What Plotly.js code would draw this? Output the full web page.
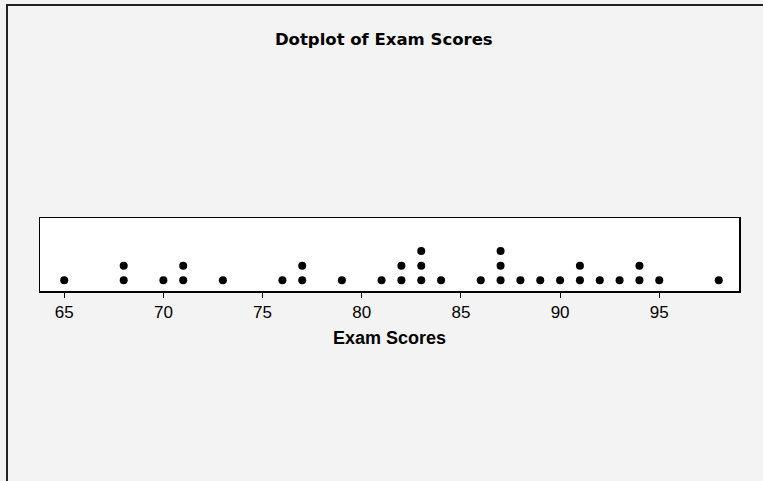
<!DOCTYPE html>
<html>
<head>
<meta charset="utf-8">
<script src="https://cdn.plot.ly/plotly-3.0.1.min.js"></script>
<style>
  html, body { margin: 0; padding: 0; background: #f3f3f3; overflow: hidden; }
  #wrap { position: relative; width: 763px; height: 481px; overflow: hidden; }
  #chart { position: absolute; left: 0; top: 0; width: 763px; height: 481px; }
  #frame { position: absolute; left: 6px; top: 4px; width: 800px; height: 520px;
           border-left: 2px solid #222222; border-top: 2px solid #222222;
           pointer-events: none; }
</style>
</head>
<body>
<div id="wrap">
  <div id="chart"></div>
  <div id="frame"></div>
</div>
<script>
// Exam scores read from the dotplot (one entry per dot)
const scores = [65, 68, 68, 70, 71, 71, 73, 76, 77, 77, 79, 81, 82, 82,
                83, 83, 83, 84, 86, 87, 87, 87, 88, 89, 90, 91, 91, 92,
                93, 94, 94, 95, 98];
const tickValues = [65, 70, 75, 80, 85, 90, 95];
const tickLabels = ['65', '70', '75', '80', '85', '90', '95'];
const chartTitle = 'Dotplot of Exam Scores';
const xTitle = 'Exam Scores';

// stack level for each dot (1 = bottom row)
const counts = {};
const xs = [], ys = [];
scores.forEach(function (s) {
  counts[s] = (counts[s] || 0) + 1;
  xs.push(s);
  ys.push(counts[s]);
});

const trace = {
  type: 'scatter',
  mode: 'markers',
  x: xs,
  y: ys,
  marker: { color: '#000000', size: 8, symbol: 'circle' },
  hoverinfo: 'x',
  showlegend: false
};

const W = 763, H = 481;
const L = 40, R = 739.5, T = 217.5, B = 291.5;

const layout = {
  width: W,
  height: H,
  paper_bgcolor: '#f3f3f3',
  plot_bgcolor: '#ffffff',
  margin: { l: L, r: W - R, t: T, b: H - B, pad: 0 },
  title: {
    text: '<b>' + chartTitle + '</b>',
    font: { family: 'DejaVu Sans', size: 16.5, color: '#000000' },
    x: 0.503, xref: 'container', xanchor: 'center',
    y: 1 - 39 / H, yref: 'container', yanchor: 'middle'
  },
  xaxis: {
    range: [63.78, 99.02],
    tickvals: tickValues,
    ticktext: tickLabels,
    ticks: 'outside',
    ticklen: 5,
    tickwidth: 1,
    tickcolor: '#000000',
    showgrid: false,
    zeroline: false,
    showline: true,
    linecolor: '#000000',
    linewidth: 1.5,
    mirror: true,
    tickfont: { family: 'Liberation Sans, Arial, sans-serif', size: 17, color: '#000000' },
    title: {
      text: '<b>' + xTitle + '</b>',
      font: { family: 'Liberation Sans, Arial, sans-serif', size: 18, color: '#000000' },
      standoff: 10
    }
  },
  yaxis: {
    range: [0.26, 5.27],
    showticklabels: false,
    ticks: '',
    showgrid: false,
    zeroline: false,
    showline: true,
    linecolor: '#000000',
    linewidth: 1.5,
    mirror: true,
    fixedrange: true
  }
};

Plotly.newPlot('chart', [trace], layout, { displayModeBar: false, staticPlot: true });
</script>
</body>
</html>
